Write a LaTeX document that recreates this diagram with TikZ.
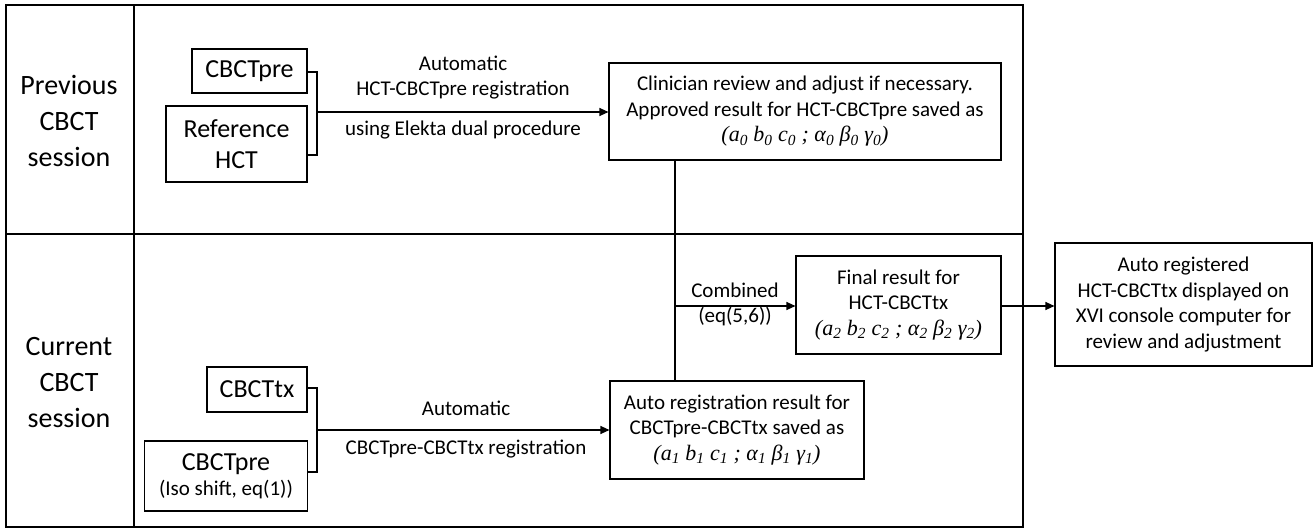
\documentclass[tikz,border=0pt]{standalone}
\usepackage{fontspec}
\setmainfont{Carlito}
\newfontfamily\tms{Liberation Serif}
\usetikzlibrary{arrows.meta}

% transform parameters, set in Times italic
\newcommand\params[1]{{\tms\itshape\fontsize{22}{25.5}\selectfont (a\textsubscript{#1} b\textsubscript{#1} c\textsubscript{#1} ; α\textsubscript{#1} β\textsubscript{#1} γ\textsubscript{#1})}}

\begin{document}
\begin{tikzpicture}[line width=1.1pt, >={Triangle[length=9pt,width=8pt]}, x=1pt, y=-1pt,
    box/.style={draw, rectangle, inner sep=0pt, align=center, font=\fontsize{21}{25.5}\selectfont},
    bigbox/.style={box, font=\fontsize{26}{31}\selectfont},
    lane/.style={align=center, font=\fontsize{28}{36}\selectfont},
    note/.style={align=center, font=\fontsize{21}{25}\selectfont}]
  \useasboundingbox (0,0) rectangle (1315,528);

  % swim lanes
  \draw[line width=1.4pt] (6,5) rectangle (1023,527);
  \draw[line width=1.4pt] (134,5) -- (134,527);
  \draw[line width=1.4pt] (6,234) -- (1023,234);
  \node[lane] (prevlane) at (69,121) {Previous\\CBCT\\session};
  \node[lane] (curlane) at (69,383) {Current\\CBCT\\session};

  % previous session
  \node[bigbox, minimum width=115, minimum height=44] (cbctpre) at (249.5,71) {CBCTpre};
  \node[bigbox, minimum width=141, minimum height=76] (refhct) at (236.5,144) {Reference\\HCT};
  \node[box, minimum width=392, minimum height=97] (clin) at (805,111.5)
    {Clinician review and adjust if necessary.\\Approved result for HCT-CBCTpre saved as\\\params{0}};
  \coordinate (brkA) at (317,112);
  \draw (cbctpre.east |- 0,72) -| (brkA) |- (refhct.east |- 0,155);
  \draw[->] (brkA) -- (clin.west |- brkA);
  \node[note, anchor=south] (regA) at (463,103) {Automatic\\HCT-CBCTpre registration};
  \node[note, anchor=north] (regAbelow) at (463,117) {using Elekta dual procedure};

  % current session
  \node[bigbox, minimum width=100, minimum height=45] (cbcttx) at (257,389.5) {CBCTtx};
  \node[box, minimum width=163, minimum height=70] (cbctprex) at (226,476)
    {{\fontsize{26}{30}\selectfont CBCTpre}\\(Iso shift, eq(1))};
  \node[box, minimum width=254, minimum height=98] (autoreg) at (737,430)
    {Auto registration result for\\CBCTpre-CBCTtx saved as\\\params{1}};
  \coordinate (brkB) at (317,430);
  \draw (cbcttx.east |- 0,388) -| (brkB) |- (cbctprex.east |- 0,472);
  \draw[->] (brkB) -- (autoreg.west |- brkB);
  \node[note, anchor=south] (regB) at (466,420) {Automatic};
  \node[note, anchor=north] (regBbelow) at (466,436) {CBCTpre-CBCTtx registration};

  % combined result
  \node[box, minimum width=205, minimum height=98] (final) at (898.5,305)
    {Final result for\\HCT-CBCTtx\\\params{2}};
  \node[box, minimum width=257, minimum height=123] (xvi) at (1183.5,304.5)
    {Auto registered\\HCT-CBCTtx displayed on\\XVI console computer for\\review and adjustment};
  \coordinate (join) at (675,306);
  \draw (clin.south -| join) -- (autoreg.north -| join);
  \draw[->] (join) -- (final.west |- join);
  \node[note] (comb) at (735,304.5) {Combined\\(eq(5,6))};
  \draw[->] (final.east |- join) -- (xvi.west |- join);
\end{tikzpicture}
\end{document}
